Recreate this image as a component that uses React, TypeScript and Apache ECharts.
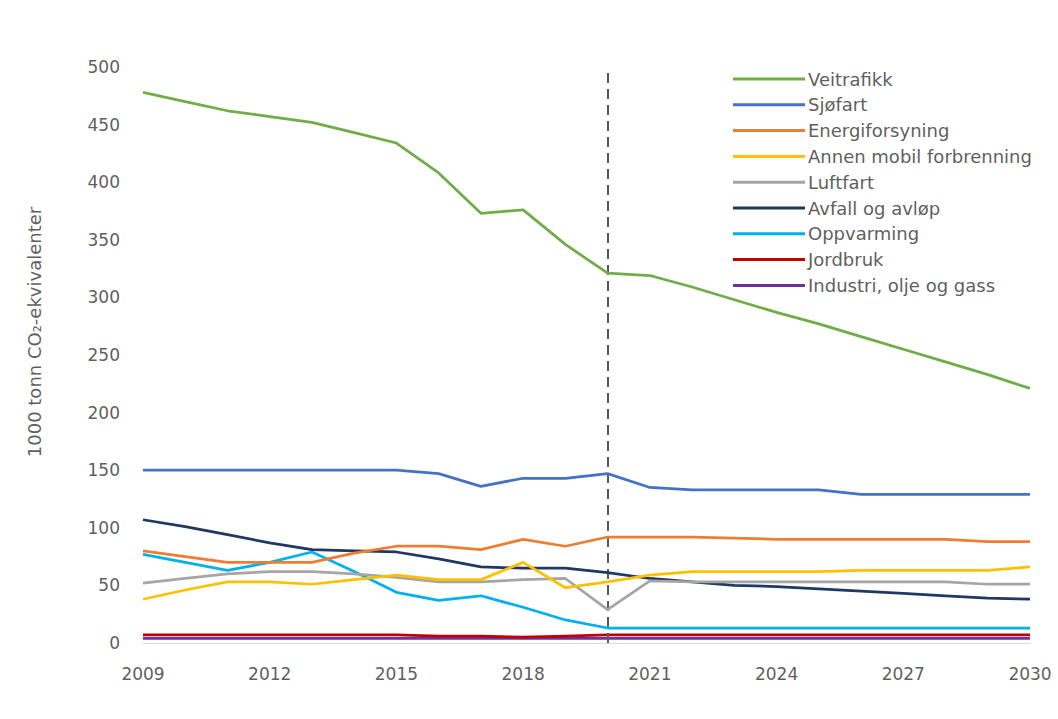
import React, { useEffect, useRef } from "react";
import * as echarts from "echarts";

const years = [
  "2009", "2010", "2011", "2012", "2013", "2014", "2015", "2016", "2017", "2018", "2019",
  "2020", "2021", "2022", "2023", "2024", "2025", "2026", "2027", "2028", "2029", "2030",
];

const veitrafikk = [478, 470, 462, 457, 452, 443, 434, 408, 373, 376, 346, 321, 319, 309, 298, 287, 277, 266, 255, 244, 233, 221];
const sjofart = [150, 150, 150, 150, 150, 150, 150, 147, 136, 143, 143, 147, 135, 133, 133, 133, 133, 129, 129, 129, 129, 129];
const energiforsyning = [80, 75, 70, 70, 70, 78, 84, 84, 81, 90, 84, 92, 92, 92, 91, 90, 90, 90, 90, 90, 88, 88];
const annenMobil = [38, 46, 53, 53, 51, 55, 59, 55, 55, 70, 48, 53, 59, 62, 62, 62, 62, 63, 63, 63, 63, 66];
const luftfart = [52, 56, 60, 62, 62, 60, 57, 53, 53, 55, 56, 29, 54, 53, 53, 53, 53, 53, 53, 53, 51, 51];
const avfall = [107, 101, 94, 87, 81, 80, 79, 73, 66, 65, 65, 61, 56, 53, 50, 49, 47, 45, 43, 41, 39, 38];
const oppvarming = [77, 70, 63, 70, 79, 62, 44, 37, 41, 31, 20, 13, 13, 13, 13, 13, 13, 13, 13, 13, 13, 13];
const jordbruk = [7, 7, 7, 7, 7, 7, 7, 6, 6, 5, 6, 7, 7, 7, 7, 7, 7, 7, 7, 7, 7, 7];
const industri = [4, 4, 4, 4, 4, 4, 4, 4, 4, 4, 4, 4, 4, 4, 4, 4, 4, 4, 4, 4, 4, 4];

const seriesNames = [
  "Veitrafikk",
  "Sjøfart",
  "Energiforsyning",
  "Annen mobil forbrenning",
  "Luftfart",
  "Avfall og avløp",
  "Oppvarming",
  "Jordbruk",
  "Industri, olje og gass",
];
const seriesData = [veitrafikk, sjofart, energiforsyning, annenMobil, luftfart, avfall, oppvarming, jordbruk, industri];
const seriesColors = ["#70AD47", "#4472C4", "#ED7D31", "#FFC000", "#A5A5A5", "#203864", "#00B0F0", "#C00000", "#7030A0"];

const markYear = "2020";
const FONT = "'DejaVu Sans', 'Open Sans', sans-serif";
const TXT = "#5f5f5f";

export default function App() {
  const ref = useRef<HTMLDivElement>(null);
  useEffect(() => {
    if (!ref.current) return;
    const chart = echarts.init(ref.current, undefined, { renderer: "svg" });
    const series: any[] = seriesNames.map((name, i) => ({
      name,
      type: "line",
      data: seriesData[i],
      symbol: "none",
      showSymbol: false,
      lineStyle: { color: seriesColors[i], width: 2.75 },
      itemStyle: { color: seriesColors[i] },
      z: 10 - i,
    }));
    series[0].markLine = {
      silent: true,
      symbol: "none",
      label: { show: false },
      lineStyle: { color: "#595959", type: [10, 6], width: 2 },
      data: [{ xAxis: markYear }],
    };
    chart.setOption({
      animation: false,
      backgroundColor: "#ffffff",
      grid: { left: 143, right: 28, top: 67, bottom: 76 },
      legend: {
        orient: "vertical",
        left: 733,
        top: 69,
        padding: 0,
        icon: "rect",
        itemWidth: 72,
        itemHeight: 3,
        itemGap: 5.8,
        textStyle: { color: TXT, fontSize: 18, fontFamily: FONT, lineHeight: 20, padding: [0, 0, 0, -2] },
        data: seriesNames,
      },
      xAxis: {
        type: "category",
        data: years,
        boundaryGap: false,
        axisLine: { lineStyle: { color: "#D9D9D9", width: 1 } },
        axisTick: { show: false },
        axisLabel: { interval: 2, color: TXT, fontSize: 17, fontFamily: FONT, margin: 22 },
        splitLine: { show: false },
      },
      yAxis: {
        type: "value",
        min: 0,
        max: 500,
        interval: 50,
        axisLine: { show: false },
        axisTick: { show: false },
        splitLine: { show: false },
        axisLabel: { color: TXT, fontSize: 17, fontFamily: FONT, margin: 23 },
      },
      graphic: [
        {
          type: "text",
          x: 34,
          y: 332,
          rotation: Math.PI / 2,
          style: {
            text: "1000 tonn CO₂-ekvivalenter",
            fill: TXT,
            fontSize: 18,
            fontFamily: FONT,
            align: "center",
            verticalAlign: "middle",
          },
        },
      ],
      series,
    });
    return () => chart.dispose();
  }, []);
  return (
    <div
      ref={ref}
      style={{ position: "fixed", left: 0, top: 0, width: 1058, height: 719, background: "#fff" }}
    />
  );
}
